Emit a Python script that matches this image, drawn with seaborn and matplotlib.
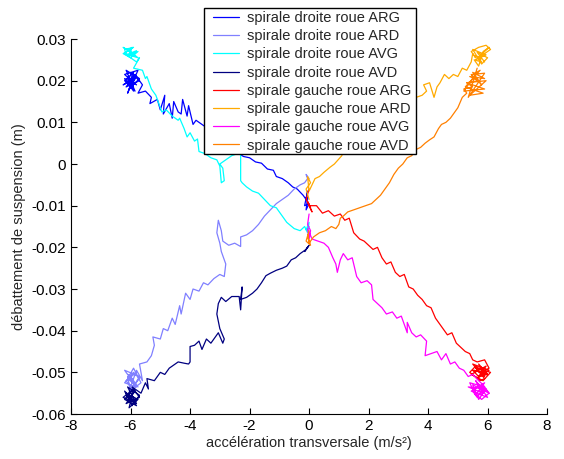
import pandas as pd
import numpy as np
import matplotlib.pyplot as plt
from matplotlib.patches import Rectangle
import seaborn as sns

# values (x in m/s², y in m)
droite_arg_x = [-5.9, -6.2, -5.75, -6.1, -5.95, -6.25, -5.8, -6.05, -5.7, -6.15, -5.85, -6.2, -5.9, -6.0,
                -6.1, -5.8, -6.2, -5.9, -6.0, -5.7, -6.15, -5.85, -5.6, -5.75, -5.5, -5.3, -5.35, -5.1, -5.0,
                -4.85, -4.9, -4.7, -4.6, -4.55, -4.4, -4.3, -4.25, -4.1, -4.05, -3.9, -3.8, -3.7, -3.5, -3.0,
                -2.5, -2.2, -2.0, -1.8, -1.6, -1.4, -1.2, -1.1, -0.9, -0.7, -0.55, -0.4, -0.2, -0.1, -0.05,
                -0.15, 0.0, -0.1, -0.05]
droite_arg_y = [0.0195, 0.0215, 0.0225, 0.0170, 0.0200, 0.0190, 0.0210, 0.0180, 0.0205, 0.0225, 0.0175, 0.0200,
                0.0220, 0.0185,
                0.021, 0.019, 0.0205, 0.0175, 0.022, 0.020, 0.0185, 0.0215, 0.019, 0.017, 0.0175, 0.016, 0.0145,
                0.0155, 0.013, 0.0165, 0.012, 0.0145, 0.011, 0.015, 0.0125, 0.012, 0.0155, 0.0115, 0.014, 0.0095,
                0.0105, 0.010, 0.009, 0.005, 0.003, 0.0018, 0.0015, 0.0005, 0.0002, -0.0012, -0.0015, -0.003,
                -0.0035, -0.0045, -0.0055, -0.006, -0.0075, -0.0085, -0.0065, -0.010, -0.0095, -0.011, -0.008]

droite_ard_x = [-5.8, -6.15, -5.95, -5.7, -6.2, -5.85, -6.05, -5.75, -6.1, -5.9, -5.65, -6.0,
                -6.1, -5.8, -6.2, -5.9, -5.7, -6.05, -5.8, -5.6, -5.7, -5.45, -5.3, -5.2, -5.25, -5.0, -4.9,
                -4.75, -4.6, -4.5, -4.35, -4.3, -4.15, -4.0, -3.9, -3.7, -3.55, -3.4, -3.2, -3.0, -2.85, -2.8,
                -2.95, -3.0, -3.1, -3.05, -2.95, -2.9, -2.7, -2.5, -2.3, -2.3, -2.1, -1.9, -1.7, -1.5, -1.3,
                -1.1, -0.9, -0.7, -0.5, -0.3, -0.15, -0.05, -0.1, 0.0]
droite_ard_y = [-0.0500, -0.0520, -0.0540, -0.0510, -0.0495, -0.0530, -0.0505, -0.0535, -0.0515, -0.0490,
                -0.0525, -0.0545,
                -0.051, -0.0535, -0.0525, -0.050, -0.0515, -0.0545, -0.0495, -0.052, -0.048, -0.0475, -0.046,
                -0.0435, -0.0415, -0.042, -0.0395, -0.040, -0.037, -0.0385, -0.034, -0.036, -0.031, -0.0325,
                -0.030, -0.0305, -0.0285, -0.029, -0.0275, -0.0265, -0.027, -0.024, -0.021, -0.019, -0.0165,
                -0.0135, -0.016, -0.0185, -0.0195, -0.019, -0.0198, -0.0175, -0.017, -0.016, -0.0145, -0.0125,
                -0.011, -0.0095, -0.0085, -0.0075, -0.006, -0.005, -0.0045, -0.0035, -0.0025, -0.0035]

droite_avg_x = [-6.0, -6.25, -5.85, -6.1, -5.75, -6.2, -5.95, -6.05, -5.8, -6.15,
                -6.2, -5.9, -6.25, -6.0, -5.75, -6.1, -5.8, -5.7, -5.9, -5.6, -5.5, -5.45, -5.3, -5.15, -5.05,
                -4.95, -4.8, -4.6, -4.4, -4.35, -4.2, -4.1, -4.0, -3.85, -3.75, -3.7, -3.5, -3.3, -3.1, -3.0,
                -2.95, -2.85, -2.9, -3.0, -2.8, -2.6, -2.4, -2.3, -2.3, -2.25, -2.1, -1.9, -1.7, -1.5, -1.3,
                -1.1, -0.9, -0.75, -0.5, -0.3, -0.15, -0.05, 0.0, -0.1, 0.0]
droite_avg_y = [0.0270, 0.0280, 0.0260, 0.0275, 0.0255, 0.0265, 0.0280, 0.0258, 0.0272, 0.0262,
                0.0275, 0.028, 0.0265, 0.0255, 0.027, 0.026, 0.0245, 0.0255, 0.023, 0.0225, 0.0205, 0.021, 0.018,
                0.0165, 0.0145, 0.0125, 0.0130, 0.0115, 0.0105, 0.0110, 0.0085, 0.0065, 0.0075, 0.0055, 0.0060,
                0.0030, 0.0025, 0.0015, 0.0010, -0.0005, -0.0045, -0.0040, -0.001, 0.000, 0.0010, 0.0020, 0.0025,
                0.0030, -0.0040, -0.0045, -0.0055, -0.0065, -0.0070, -0.0085, -0.0100, -0.0105, -0.0125, -0.0140,
                -0.0155, -0.0160, -0.0150, -0.0165, -0.0140, -0.0158, -0.0150]

droite_avd_x = [-5.85, -6.2, -5.95, -5.7, -6.1, -5.8, -6.25, -5.9, -6.05, -5.75, -6.15, -5.95,
                -6.1, -5.8, -6.2, -5.9, -5.7, -6.15, -5.85, -5.95, -5.65, -5.5, -5.4, -5.45, -5.2, -5.0, -4.85,
                -4.7, -4.5, -4.4, -4.2, -4.05, -4.0, -4.0, -3.85, -3.7, -3.6, -3.45, -3.3, -3.15, -3.05, -2.9,
                -2.85, -3.0, -3.1, -3.05, -2.95, -2.8, -2.6, -2.35, -2.3, -2.25, -2.3, -2.1, -1.9, -1.75, -1.6,
                -1.45, -1.3, -1.1, -0.9, -0.75, -0.6, -0.45, -0.3, -0.2, -0.1, 0.0, -0.15, -0.05]
droite_avd_y = [-0.0570, -0.0545, -0.0580, -0.0555, -0.0535, -0.0575, -0.0560, -0.0540, -0.0585, -0.0565,
                -0.0550, -0.0570,
                -0.0555, -0.058, -0.0565, -0.054, -0.0560, -0.0575, -0.0545, -0.0535, -0.0550, -0.0525, -0.054,
                -0.0515, -0.0520, -0.0500, -0.0505, -0.0490, -0.0480, -0.0475, -0.0478, -0.0480, -0.0475, -0.0438,
                -0.0435, -0.0425, -0.0445, -0.0420, -0.0430, -0.0415, -0.0405, -0.0430, -0.0420, -0.0395, -0.0360,
                -0.0335, -0.0320, -0.0330, -0.0318, -0.0318, -0.0350, -0.0295, -0.0325, -0.0320, -0.0310, -0.0300,
                -0.0285, -0.0268, -0.0262, -0.0255, -0.0250, -0.0245, -0.0230, -0.0225, -0.0215, -0.0210, -0.0205,
                -0.0195, -0.0210, -0.0200]

gauche_arg_x = [0.0, -0.1, 0.05, -0.05, 0.1, 0.0, 0.25, 0.45, 0.65, 0.85, 1.05, 1.2, 1.35, 1.5, 1.7, 1.85, 2.0,
                2.15, 2.3, 2.45, 2.6, 2.75, 2.9, 3.05, 3.2, 3.35, 3.5, 3.65, 3.8, 3.95, 4.1, 4.25, 4.4, 4.5, 4.65,
                4.8, 4.95, 5.1, 5.25, 5.4, 5.5, 5.65, 5.9, 6.05, 5.8, 5.5, 5.7, 6.0, 5.6, 5.4, 5.75, 5.9,
                5.5, 6.05, 5.65, 5.95, 5.45, 5.85, 6.1, 5.6, 5.9, 5.7, 6.0, 5.55]
gauche_arg_y = [-0.006, -0.0085, -0.0105, -0.009, -0.0115, -0.010, -0.0100, -0.0118, -0.0112, -0.0125, -0.0120,
                -0.0135, -0.0130, -0.0165, -0.0180, -0.0185, -0.0195, -0.0205, -0.0200, -0.0225, -0.0240, -0.0235,
                -0.0260, -0.0270, -0.0265, -0.0295, -0.0300, -0.0315, -0.0325, -0.0340, -0.0345, -0.0370, -0.0385,
                -0.0395, -0.0410, -0.0405, -0.0430, -0.0440, -0.0450, -0.0455, -0.0470, -0.0475, -0.0470, -0.0490,
                -0.0500, -0.0495, -0.0510, -0.0505, -0.0485, -0.0500, -0.0520, -0.0515,
                -0.0480, -0.0495, -0.0515, -0.0485, -0.0505, -0.0520, -0.0500, -0.0490, -0.0510, -0.0480,
                -0.0505, -0.0495]

gauche_ard_x = [0.0, -0.1, 0.05, -0.05, 0.0, 0.2, 0.35, 0.5, 0.7, 0.85, 1.0, 1.1, 1.15, 1.5, 2.0, 2.5, 3.0, 3.4,
                3.6, 3.8, 3.95, 3.85, 4.05, 4.2, 4.3, 4.4, 4.55, 4.7, 4.85, 5.0, 5.15, 5.3, 5.45, 5.5, 5.6, 5.45,
                5.7, 5.95, 6.1, 5.9, 5.75, 5.6, 5.8, 5.55, 5.7,
                5.85, 6.05, 5.6, 5.95, 5.5, 5.8, 6.0, 5.65, 5.9]
gauche_ard_y = [-0.0085, -0.006, -0.0045, -0.0030, -0.0065, -0.0035, -0.0030, -0.0020, -0.0008, 0.0000, 0.0012,
                0.0020, 0.0030, 0.0060, 0.0090, 0.0110, 0.0140, 0.0158, 0.0160, 0.0165, 0.0175, 0.0190, 0.0195,
                0.0160, 0.0185, 0.0195, 0.0215, 0.0205, 0.0215, 0.0210, 0.0230, 0.0225, 0.0245, 0.0265, 0.0255,
                0.0270, 0.0280, 0.0285, 0.0275, 0.0265, 0.0255, 0.0260, 0.0245, 0.0250, 0.0235,
                0.0270, 0.0280, 0.0250, 0.0262, 0.0275, 0.0240, 0.0255, 0.0268, 0.0245]

gauche_avg_x = [0.0, -0.05, 0.05, 0.0, -0.05, 0.1, 0.3, 0.5, 0.65, 0.8, 0.9, 0.95, 1.05, 1.15, 1.3, 1.45, 1.6,
                1.75, 1.95, 2.1, 2.15, 2.3, 2.45, 2.6, 2.8, 2.95, 3.1, 3.2, 3.3, 3.3, 3.45, 3.6, 3.75, 3.95, 3.9,
                4.1, 4.3, 4.45, 4.6, 4.75, 4.9, 5.05, 5.2, 5.35, 5.5, 5.7, 5.85, 6.05, 5.8, 5.5, 5.65, 5.9, 5.4,
                5.6, 5.75,
                5.9, 5.45, 6.0, 5.6, 5.85, 5.35, 5.95, 5.7, 5.5, 6.05, 5.65, 5.8]
gauche_avg_y = [-0.0120, -0.0145, -0.0160, -0.0180, -0.0155, -0.0180, -0.0185, -0.0190, -0.0200, -0.0225, -0.0240,
                -0.0260, -0.0230, -0.0215, -0.0230, -0.0225, -0.0270, -0.0285, -0.0280, -0.0290, -0.0325, -0.0335,
                -0.0345, -0.0360, -0.0355, -0.0370, -0.0365, -0.0385, -0.0405, -0.0380, -0.0405, -0.0415, -0.0410,
                -0.0425, -0.0460, -0.0455, -0.0450, -0.0470, -0.0455, -0.0480, -0.0475, -0.0490, -0.0495, -0.0510,
                -0.0505, -0.0520, -0.0530, -0.0550, -0.0565, -0.0545, -0.0560, -0.0535, -0.0525, -0.0555, -0.0540,
                -0.0525, -0.0545, -0.0560, -0.0520, -0.0550, -0.0535, -0.0540, -0.0565, -0.0530, -0.0550,
                -0.0525, -0.0555]

gauche_avd_x = [0.0, -0.1, 0.05, -0.05, 0.0, 0.15, 0.35, 0.55, 0.75, 0.9, 1.0, 1.05, 1.15, 1.3, 1.5, 1.7, 1.9,
                2.1, 2.25, 2.4, 2.55, 2.7, 2.85, 3.0, 3.15, 3.3, 3.45, 3.6, 3.75, 3.9, 4.05, 4.2, 4.35, 4.45, 4.6,
                4.75, 4.9, 5.0, 5.15, 5.3, 5.2, 5.5, 5.3, 5.7, 5.4, 5.9, 5.5, 5.8, 5.45, 5.65, 5.55,
                5.2, 5.9, 5.3, 5.95, 5.4, 5.85, 5.25, 5.75, 5.5, 5.9, 5.35, 5.65]
gauche_avd_y = [-0.0160, -0.0185, -0.0195, -0.0170, -0.0190, -0.0175, -0.0165, -0.0160, -0.0150, -0.0155, -0.0145,
                -0.0130, -0.0125, -0.0115, -0.0110, -0.0105, -0.0100, -0.0095, -0.0085, -0.0075, -0.0060, -0.0045,
                -0.0025, -0.0010, 0.0000, 0.0015, 0.0020, 0.0035, 0.0040, 0.0050, 0.0058, 0.0065, 0.0085, 0.0095,
                0.0100, 0.0110, 0.0125, 0.0135, 0.0160, 0.0170, 0.0180, 0.0185, 0.0195, 0.0200, 0.0210, 0.0205,
                0.0220, 0.0190, 0.0215, 0.0200, 0.0210,
                0.0175, 0.0180, 0.0195, 0.0200, 0.0165, 0.0170, 0.0185, 0.0225, 0.0215, 0.0218, 0.0160, 0.0230]

series_names = ['spirale droite roue ARG', 'spirale droite roue ARD', 'spirale droite roue AVG',
                'spirale droite roue AVD', 'spirale gauche roue ARG', 'spirale gauche roue ARD',
                'spirale gauche roue AVG', 'spirale gauche roue AVD']
series_x = [droite_arg_x, droite_ard_x, droite_avg_x, droite_avd_x,
            gauche_arg_x, gauche_ard_x, gauche_avg_x, gauche_avd_x]
series_y = [droite_arg_y, droite_ard_y, droite_avg_y, droite_avd_y,
            gauche_arg_y, gauche_ard_y, gauche_avg_y, gauche_avd_y]
colors = ['#0000ff', '#8080ff', '#00ffff', '#000080', '#ff0000', '#ffaa00', '#ff00ff', '#ff8000']

frames = []
for name, xs, ys in zip(series_names, series_x, series_y):
    frames.append(pd.DataFrame({'serie': name, 'x': xs, 'y': ys, 'n': range(len(xs))}))
df = pd.concat(frames, ignore_index=True)

sns.set_style("ticks")
plt.rcParams['font.family'] = ['Liberation Sans', 'DejaVu Sans']
plt.rcParams['axes.unicode_minus'] = False
plt.rcParams['xtick.direction'] = 'in'
plt.rcParams['ytick.direction'] = 'in'

fig = plt.figure(figsize=(5.64, 4.59), dpi=100)
ax = fig.add_axes([0.126, 0.098, 0.844, 0.817])
sns.lineplot(data=df, x='x', y='y', hue='serie', hue_order=series_names,
             palette=dict(zip(series_names, colors)), sort=False, estimator=None,
             linewidth=0.9, ax=ax)

ax.set_xlim(-8, 8)
ax.set_ylim(-0.06, 0.03)
ax.set_xticks(np.arange(-8, 9, 2))
ax.set_yticks(np.arange(-0.06, 0.031, 0.01))
ax.set_yticklabels(['-0.06', '-0.05', '-0.04', '-0.03', '-0.02', '-0.01', '0', '0.01', '0.02', '0.03'])
ax.tick_params(labelsize=11, length=4, width=0.8, colors='black')
for s in ['left', 'bottom']:
    ax.spines[s].set_linewidth(0.8)
    ax.spines[s].set_color('black')
sns.despine(ax=ax)
ax.set_xlabel('accélération transversale (m/s²)', fontsize=10.5, labelpad=2)
ax.set_ylabel('débattement de suspension (m)', fontsize=10.5)

# legend box drawn separately so its padding can match the original (wide sides, tight top/bottom)
box = Rectangle((204 / 564, 1 - 154 / 459), 212 / 564, 146 / 459, transform=fig.transFigure,
                facecolor='white', edgecolor='black', linewidth=1.0, clip_on=False, zorder=4.9)
ax.add_patch(box)
leg = ax.legend(loc='upper left', bbox_to_anchor=(213 / 564, 1 - 11 / 459), bbox_transform=fig.transFigure,
                fontsize=10.5, frameon=False, borderaxespad=0, borderpad=0, handlelength=1.8,
                handletextpad=0.5, labelspacing=0.29)
leg.set_zorder(5)

plt.savefig('out.png', dpi=100)
plt.close()
